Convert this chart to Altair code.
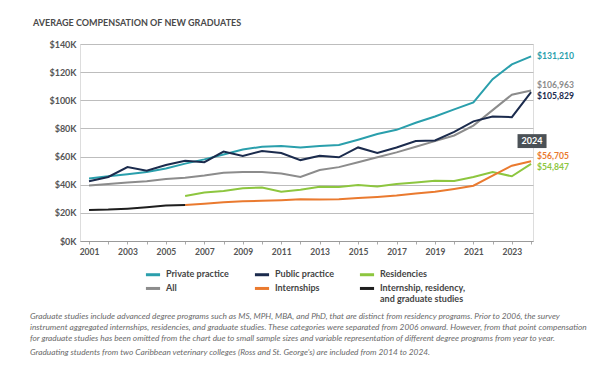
import altair as alt
import pandas as pd

years = list(range(2001, 2025))
private_practice = [44.5, 46, 47.5, 49, 51.5, 55, 58, 61.5, 65, 67, 67.5, 66.5,
                    67.5, 68.2, 72, 76, 79, 84, 88.5, 93.5, 98.5, 115, 125.5, 131.21]
public_practice = [42.5, 45.5, 52.5, 50, 54, 57, 56, 63.5, 60.5, 64, 62.5, 57.5,
                   60.5, 59.5, 66.5, 62.5, 66.5, 71, 71.5, 77.5, 85, 88.5, 88, 105.829]
residencies = [None, None, None, None, None, 32, 34.5, 35.5, 37.5, 38, 35, 36.5,
               38.5, 38.3, 39.8, 38.8, 40.5, 41.5, 42.8, 42.6, 45.5, 49, 46, 54.847]
all_grads = [39.5, 40.5, 41.5, 42.5, 44, 45, 46.5, 48.5, 49, 49, 48, 45.5,
             50.5, 52.5, 56, 59.5, 63, 67, 71, 75, 82, 93, 104, 106.963]
internships = [None, None, None, None, None, 25.6, 26.5, 27.5, 28.3, 28.6, 29, 29.6,
               29.5, 29.6, 30.5, 31.3, 32.3, 33.8, 35, 37, 39.3, 46.5, 53.5, 56.705]
combined = [22, 22.3, 23, 24, 25.2, 25.6, None, None, None, None, None, None,
            None, None, None, None, None, None, None, None, None, None, None, None]
y_ticks = [0, 20000, 40000, 60000, 80000, 100000, 120000, 140000]

legend_order = ["Private practice", "Public practice", "Residencies",
                "All", "Internships", "Internship, residency, and graduate studies"]
colors = ["#2a9fac", "#1b2b4d", "#8dc63f", "#8c8c8c", "#ea7a2f", "#1e1e1e"]

series = {
    "All": all_grads,
    "Private practice": private_practice,
    "Public practice": public_practice,
    "Residencies": residencies,
    "Internships": internships,
    "Internship, residency, and graduate studies": combined,
}

rows = []
for name, vals in series.items():
    for y, v in zip(years, vals):
        if v is not None:
            rows.append({"year": y, "series": name, "value": v * 1000})
df = pd.DataFrame(rows)

FONT = "Lato"

x_enc = alt.X("year:Q",
              scale=alt.Scale(domain=[2000.53, 2024.1], nice=False, zero=False),
              axis=alt.Axis(values=years, tickCount=40,
                            labelExpr="datum.value % 2 == 1 ? '' + datum.value : ''",
                            grid=False, tickSize=3, tickColor="#aaaaaa", domainColor="#9a9a9a",
                            labelFont=FONT, labelFontSize=8.5, labelFontWeight="bold",
                            labelColor="#555555", labelPadding=3, labelOverlap=False,
                            title=None))
y_enc = alt.Y("value:Q",
              scale=alt.Scale(domain=[0, 140000], nice=False),
              axis=alt.Axis(values=y_ticks, tickCount=20,
                            labelExpr="'$' + (datum.value / 1000) + 'K'",
                            grid=True, gridColor="#bdbdbd", gridWidth=1, domain=False, ticks=False,
                            labelFont=FONT, labelFontSize=9, labelFontWeight="bold",
                            labelColor="#555555", labelPadding=4, labelOverlap=False,
                            title=None))

lines = alt.Chart(df).mark_line(strokeWidth=2).encode(
    x=x_enc, y=y_enc,
    color=alt.Color("series:N",
                    scale=alt.Scale(domain=legend_order, range=colors),
                    sort=legend_order,
                    legend=alt.Legend(title=None, orient="none", legendX=64, legendY=224,
                                      columns=3, direction="horizontal",
                                      symbolType="M-1,-0.36L1,-0.36", symbolStrokeWidth=3,
                                      symbolSize=200,
                                      labelFont=FONT, labelFontSize=9, labelFontWeight="bold",
                                      labelColor="#444444", labelOffset=4, labelLimit=300,
                                      labelBaseline="alphabetic",
                                      columnPadding=19, rowPadding=1, padding=0,
                                      labelExpr="datum.label == 'Internship, residency, and graduate studies' ? ['Internship, residency,', 'and graduate studies'] : datum.label")),
    detail="series:N",
)

# end labels
end_specs = [("Private practice", 0, "#2a9fac"),
             ("All", -5, "#8c8c8c"),
             ("Public practice", 4, "#1b2b4d"),
             ("Internships", -5, "#ea7a2f"),
             ("Residencies", 3, "#8dc63f")]
end_layers = []
for name, dy, col in end_specs:
    v = series[name][-1]
    d = pd.DataFrame({"year": [years[-1]], "value": [v * 1000],
                      "label": ["$" + format(round(v * 1000), ",")]})
    end_layers.append(
        alt.Chart(d).mark_text(align="left", baseline="middle", dx=6, dy=dy,
                               font=FONT, fontSize=8.6, fontWeight="bold", color=col)
        .encode(x="year:Q", y="value:Q", text="label:N"))

# "2024" tag
tag = pd.DataFrame({"year": [2024.05], "value": [71000], "label": ["2024"]})
tag_box = alt.Chart(tag).mark_point(
    shape="M-1,-0.48L1,-0.48L1,0.48L-1,0.48Z", size=841, filled=True,
    color="#4b5156", opacity=1, strokeWidth=0).encode(x="year:Q", y="value:Q")
tag_text = alt.Chart(tag).mark_text(font=FONT, fontSize=9, fontWeight="bold",
                                    color="white", baseline="middle").encode(
    x="year:Q", y="value:Q", text="label:N")

note_lines = [
    "Graduate studies include advanced degree programs such as MS, MPH, MBA, and PhD, that are distinct from residency programs. Prior to 2006, the survey",
    "instrument aggregated internships, residencies, and graduate studies. These categories were separated from 2006 onward. However, from that point compensation",
    "for graduate studies has been omitted from the chart due to small sample sizes and variable representation of different degree programs from year to year.",
]
note_last = "Graduating students from two Caribbean veterinary colleges (Ross and St. George's) are included from 2014 to 2024."

one = pd.DataFrame({"a": [0]})
note1 = alt.Chart(one).mark_text(align="left", baseline="middle", font=FONT, fontSize=8.3,
                                 fontStyle="italic", color="#6a6a6a", lineHeight=11).encode(
    x=alt.value(-50), y=alt.value(273), text=alt.value(note_lines))
note2 = alt.Chart(one).mark_text(align="left", baseline="middle", font=FONT, fontSize=8.3,
                                 fontStyle="italic", color="#6a6a6a").encode(
    x=alt.value(-50), y=alt.value(309), text=alt.value(note_last))

chart = alt.layer(lines, *end_layers, tag_box, tag_text, note1, note2).properties(
    width=453, height=197,
    autosize=alt.AutoSizeParams(type="none"),
    padding={"left": 72, "top": 36, "right": 59, "bottom": 117},
    title=alt.TitleParams("AVERAGE COMPENSATION OF NEW GRADUATES", anchor="start", dx=-47,
                          offset=12, font=FONT, fontSize=9, fontWeight="bold",
                          color="#4a4a4a", frame="group"),
).configure_view(stroke=None).configure(background="white")

chart.save("out.html", embed_options={"renderer": "svg", "actions": False})
